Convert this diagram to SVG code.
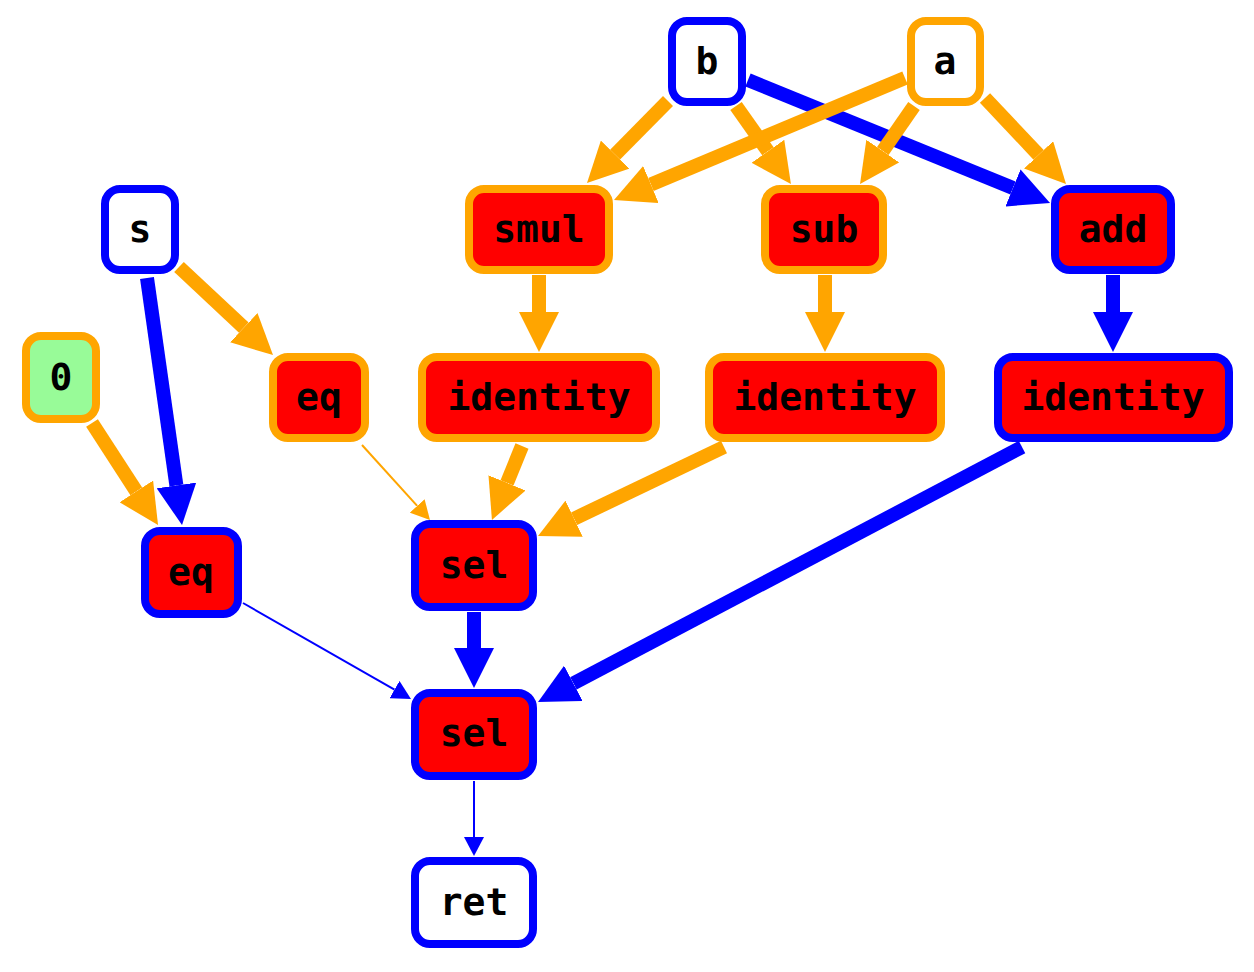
<svg xmlns="http://www.w3.org/2000/svg" width="1254" height="972" viewBox="0 0 1254 972">
<style>
.n rect{stroke-width:8}
.o{stroke:#ffa500}
.bl{stroke:#0000ff}
.w{fill:#ffffff}
.r{fill:#ff0000}
.g{fill:#98fb98}
text{font-family:"DejaVu Sans Mono","Liberation Mono",monospace;font-weight:bold;font-size:38px;text-anchor:middle;fill:#000}
.e line{fill:none;stroke-linecap:butt}
.tk{stroke-width:14}
.tn{stroke-width:2}
</style>
<defs>
<marker id="ato" markerUnits="userSpaceOnUse" orient="auto" markerWidth="40" markerHeight="40" refX="0" refY="20"><path d="M0,0 L40,20 L0,40 z" fill="#ffa500"/></marker>
<marker id="atb" markerUnits="userSpaceOnUse" orient="auto" markerWidth="40" markerHeight="40" refX="0" refY="20"><path d="M0,0 L40,20 L0,40 z" fill="#0000ff"/></marker>
<marker id="ano" markerUnits="userSpaceOnUse" orient="auto" markerWidth="19" markerHeight="20" refX="0" refY="10"><path d="M0,0 L19,10 L0,20 z" fill="#ffa500"/></marker>
<marker id="anb" markerUnits="userSpaceOnUse" orient="auto" markerWidth="19" markerHeight="20" refX="0" refY="10"><path d="M0,0 L19,10 L0,20 z" fill="#0000ff"/></marker>
</defs>
<g id="edges" class="e">
<line class="tk bl" x1="748" y1="80" x2="1013" y2="187.9" marker-end="url(#atb)"/>
<line class="tk bl" x1="147" y1="278" x2="176.4" y2="485.4" marker-end="url(#atb)"/>
<line class="tk bl" x1="1113" y1="275" x2="1113" y2="312" marker-end="url(#atb)"/>
<line class="tk bl" x1="1022" y1="447" x2="573.4" y2="683.4" marker-end="url(#atb)"/>
<line class="tk bl" x1="474" y1="612" x2="474" y2="648" marker-end="url(#atb)"/>
<line class="tn bl" x1="243" y1="603" x2="394.5" y2="689.6" marker-end="url(#anb)"/>
<line class="tn bl" x1="474" y1="781" x2="474" y2="837" marker-end="url(#anb)"/>
<line class="tk o" x1="668" y1="101" x2="615.1" y2="154.6" marker-end="url(#ato)"/>
<line class="tk o" x1="736" y1="106" x2="767.9" y2="151.3" marker-end="url(#ato)"/>
<line class="tk o" x1="905" y1="78" x2="650.9" y2="184.5" marker-end="url(#ato)"/>
<line class="tk o" x1="914" y1="106" x2="882.8" y2="151.1" marker-end="url(#ato)"/>
<line class="tk o" x1="985" y1="98" x2="1038.6" y2="154.9" marker-end="url(#ato)"/>
<line class="tk o" x1="179" y1="267" x2="243.8" y2="327.7" marker-end="url(#ato)"/>
<line class="tk o" x1="92" y1="423" x2="136.3" y2="491.4" marker-end="url(#ato)"/>
<line class="tk o" x1="539" y1="275" x2="539" y2="312" marker-end="url(#ato)"/>
<line class="tk o" x1="825" y1="275" x2="825" y2="312" marker-end="url(#ato)"/>
<line class="tn o" x1="362" y1="445" x2="417.2" y2="505.9" marker-end="url(#ano)"/>
<line class="tk o" x1="522" y1="446" x2="507" y2="482.9" marker-end="url(#ato)"/>
<line class="tk o" x1="724" y1="447" x2="574.1" y2="518.7" marker-end="url(#ato)"/>
</g>
<g id="node-b" class="n"><rect class="w bl" x="672" y="21" width="70" height="81" rx="15"/><text x="707" y="74">b</text></g>
<g id="node-a" class="n"><rect class="w o" x="911" y="21" width="69" height="81" rx="15"/><text x="945" y="74">a</text></g>
<g id="node-s" class="n"><rect class="w bl" x="105" y="189" width="70" height="81" rx="15"/><text x="140" y="242">s</text></g>
<g id="node-smul" class="n"><rect class="r o" x="469" y="189" width="140" height="81" rx="15"/><text x="539" y="242">smul</text></g>
<g id="node-sub" class="n"><rect class="r o" x="765" y="189" width="118" height="81" rx="15"/><text x="824" y="242">sub</text></g>
<g id="node-add" class="n"><rect class="r bl" x="1055" y="189" width="116" height="81" rx="15"/><text x="1113" y="242">add</text></g>
<g id="node-zero" class="n"><rect class="g o" x="26" y="336" width="70" height="83" rx="15"/><text x="61" y="390">0</text></g>
<g id="node-eq1" class="n"><rect class="r o" x="273" y="357" width="92" height="81" rx="15"/><text x="319" y="410">eq</text></g>
<g id="node-id1" class="n"><rect class="r o" x="422" y="357" width="234" height="81" rx="15"/><text x="539" y="410">identity</text></g>
<g id="node-id2" class="n"><rect class="r o" x="709" y="357" width="232" height="81" rx="15"/><text x="825" y="410">identity</text></g>
<g id="node-id3" class="n"><rect class="r bl" x="998" y="357" width="231" height="81" rx="15"/><text x="1113" y="410">identity</text></g>
<g id="node-eq2" class="n"><rect class="r bl" x="145" y="531" width="93" height="83" rx="15"/><text x="191" y="585">eq</text></g>
<g id="node-sel1" class="n"><rect class="r bl" x="415" y="524" width="118" height="83" rx="15"/><text x="474" y="578">sel</text></g>
<g id="node-sel2" class="n"><rect class="r bl" x="415" y="693" width="118" height="83" rx="15"/><text x="474" y="746">sel</text></g>
<g id="node-ret" class="n"><rect class="w bl" x="415" y="861" width="118" height="83" rx="15"/><text x="474" y="915">ret</text></g>
</svg>
